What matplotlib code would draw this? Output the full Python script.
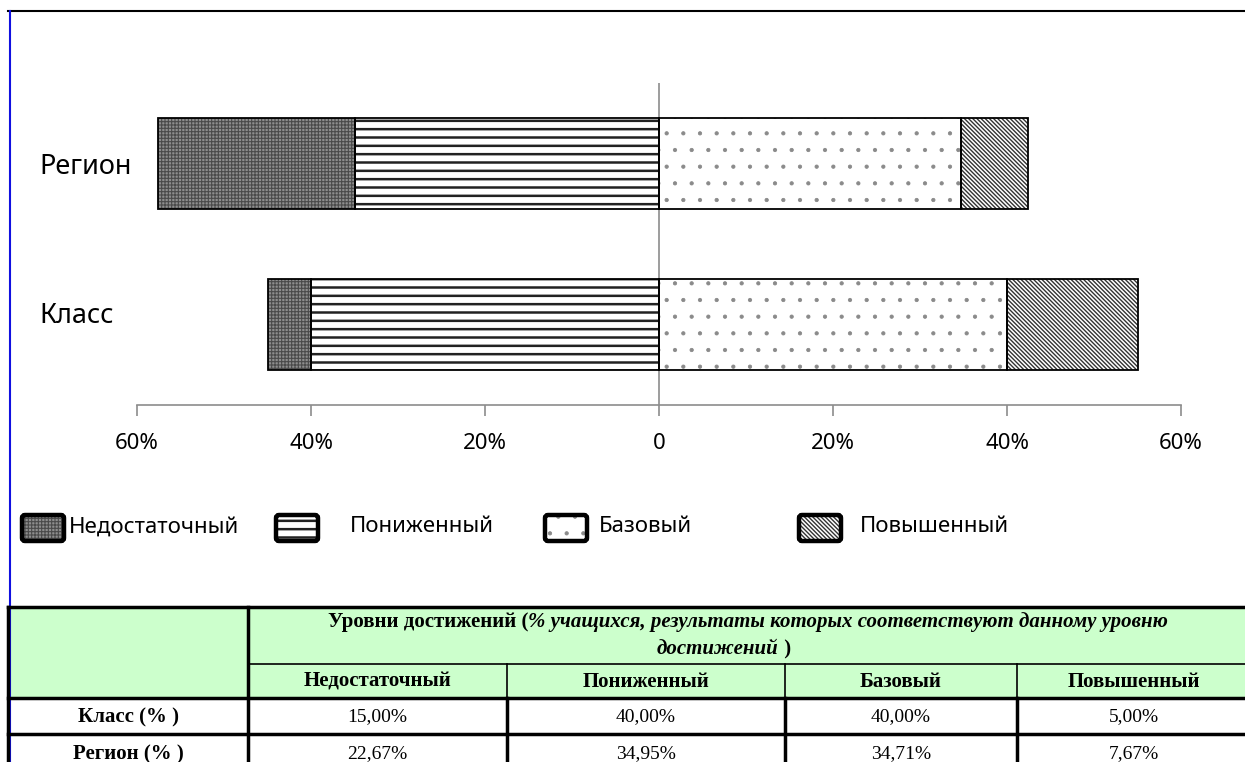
import matplotlib
matplotlib.use('Agg')
import matplotlib.pyplot as plt
import matplotlib.transforms as mtransforms
from matplotlib.patches import Rectangle, FancyBboxPatch
from matplotlib.ticker import FuncFormatter

plt.rcParams['font.family'] = ['Noto Sans', 'DejaVu Sans']

# данные диаграммы (как нарисовано)
categories = ['Класс', 'Регион']
levels = ['Недостаточный', 'Пониженный', 'Базовый', 'Повышенный']
nedostatochny = [5.0, 22.67]
ponizhenny = [40.0, 34.95]
bazovy = [40.0, 34.71]
povyshenny = [15.0, 7.67]

# данные таблицы
table_rows = ['Класс (% )', 'Регион (% )']
table_class = [15.00, 40.00, 40.00, 5.00]
table_region = [22.67, 34.95, 34.71, 7.67]

x_ticks = [-60, -40, -20, 0, 20, 40, 60]

styles = {
    'Недостаточный': dict(face='#8e8e8e', hatch='+++++', hc='#4a4a4a', hlw=0.8),
    'Пониженный': dict(face='white', hatch='--', hc='#222222', hlw=1.8),
    'Базовый': dict(face='white', hatch='.', hc='#8a8a8a', hlw=0.6),
    'Повышенный': dict(face='white', hatch='\\' * 8, hc='#333333', hlw=1.0),
}

W, H = 1245, 762
fig = plt.figure(figsize=(W / 100, H / 100), dpi=100)
ax = fig.add_axes([137 / W, 1 - 405 / H, 1044 / W, 322 / H])

y = list(range(len(categories)))
bh = 0.57


def hbar(left, width, name):
    st = styles[name]
    plt.rcParams['hatch.linewidth'] = st['hlw']
    ax.barh(y, width, left=left, height=bh, color=st['face'], hatch=st['hatch'],
            edgecolor=st['hc'], linewidth=0, zorder=2)
    ax.barh(y, width, left=left, height=bh, fill=False, edgecolor='black',
            linewidth=1.3, zorder=3)


hbar([-v for v in ponizhenny], ponizhenny, 'Пониженный')
hbar([-(a + b) for a, b in zip(ponizhenny, nedostatochny)], nedostatochny, 'Недостаточный')
hbar([0] * len(bazovy), bazovy, 'Базовый')
hbar(bazovy, povyshenny, 'Повышенный')

ax.set_xlim(-60, 60)
ax.set_ylim(-0.5, 1.5)
ax.axvline(0, color='#8c8c8c', lw=1.2, zorder=1)
for s in ['top', 'right', 'left']:
    ax.spines[s].set_visible(False)
ax.spines['bottom'].set_color('#8c8c8c')
ax.spines['bottom'].set_linewidth(1.2)
ax.set_xticks(x_ticks)
ax.xaxis.set_major_formatter(FuncFormatter(lambda v, p: '0' if v == 0 else f'{abs(v):.0f}%'))
ax.tick_params(axis='x', length=8, color='#8c8c8c', width=1.2, labelsize=16, pad=12)
ax.set_yticks(y)
ax.set_yticklabels(categories, fontsize=19.5, ha='left')
ax.tick_params(axis='y', length=0, pad=70)
# подпись "Класс" в оригинале чуть выше центра полосы
for lab in ax.get_yticklabels():
    if lab.get_text() == 'Класс':
        lab.set_transform(lab.get_transform() +
                          mtransforms.ScaledTranslation(0, 12 / 100, fig.dpi_scale_trans))

# оверлей в пикселях: легенда, рамки, таблица
ov = fig.add_axes([0, 0, 1, 1], zorder=5)
ov.set_xlim(0, W)
ov.set_ylim(H, 0)
ov.axis('off')
ov.patch.set_alpha(0)

ov.plot([8, W], [11, 11], color='black', lw=1.5)
ov.plot([10, 10], [11, H], color='#1010e0', lw=1.5)

leg_x = [20, 274, 543, 797]
leg_tx = [69, 350, 599, 860]
for name, lx, tx in zip(levels, leg_x, leg_tx):
    st = styles[name]
    plt.rcParams['hatch.linewidth'] = st['hlw']
    ov.add_patch(Rectangle((lx + 3, 516), 40, 24, facecolor=st['face'], hatch=st['hatch'],
                           edgecolor=st['hc'], linewidth=0))
    ov.add_patch(FancyBboxPatch((lx + 2, 515), 42, 26, boxstyle='round,pad=0,rounding_size=3',
                                fill=False, edgecolor='black', linewidth=3.2))
    ov.text(tx, 527, name, fontsize=16, va='center', ha='left')

# таблица
green = '#ccffcc'
cols = [8, 248, 507, 785, 1017, 1250]
rows = [607, 664, 698, 734, 772]
ov.add_patch(Rectangle((cols[0], rows[0]), cols[-1] - cols[0], rows[2] - rows[0],
                       facecolor=green, edgecolor='none'))
lw_thick, lw_thin = 2.5, 1.2
ov.plot([cols[0], cols[-1]], [rows[0], rows[0]], color='black', lw=lw_thick)
ov.plot([cols[1], cols[-1]], [rows[1], rows[1]], color='black', lw=lw_thin)
ov.plot([cols[0], cols[-1]], [rows[2], rows[2]], color='black', lw=lw_thick)
ov.plot([cols[0], cols[-1]], [rows[3], rows[3]], color='black', lw=lw_thick)
ov.plot([cols[0], cols[0]], [rows[0], H], color='black', lw=lw_thick)
ov.plot([cols[1], cols[1]], [rows[0], H], color='black', lw=lw_thick)
for c in cols[2:-1]:
    ov.plot([c, c], [rows[1], rows[2]], color='black', lw=lw_thin)
    ov.plot([c, c], [rows[2], H], color='black', lw=lw_thick)

serif = ['Liberation Serif', 'DejaVu Serif']
fs_b, fs = 15, 14
# заголовок с курсивом
parts1 = [('Уровни достижений (', 'normal'),
          ('% учащихся, результаты которых соответствуют данному уровню', 'italic')]
parts2 = [('достижений', 'italic'), (' )', 'normal')]


def mixed_line(parts, cx, cy):
    texts = [ov.text(0, cy, t, family=serif, fontsize=fs_b, weight='bold', style=s,
                     va='center', ha='left') for t, s in parts]
    fig.canvas.draw()
    r = fig.canvas.get_renderer()
    inv = ov.transData.inverted()
    widths = []
    for t in texts:
        bb = t.get_window_extent(r)
        x0 = inv.transform((bb.x0, bb.y0))[0]
        x1 = inv.transform((bb.x1, bb.y0))[0]
        widths.append(x1 - x0)
    x = cx - sum(widths) / 2
    for t, w in zip(texts, widths):
        t.set_x(x)
        x += w


mixed_line(parts1, 748, 622)
mixed_line(parts2, 724, 649)

for i, name in enumerate(levels):
    ov.text((cols[i + 1] + cols[i + 2]) / 2, (rows[1] + rows[2]) / 2 + 1, name, family=serif,
            fontsize=fs_b, weight='bold', ha='center', va='center')

for r_i, (lab, vals) in enumerate(zip(table_rows, [table_class, table_region])):
    cy = (rows[2 + r_i] + rows[3 + r_i]) / 2 + 1
    ov.text((cols[0] + cols[1]) / 2, cy, lab, family=serif, fontsize=fs_b, weight='bold',
            ha='center', va='center')
    for i, v in enumerate(vals):
        ov.text((cols[i + 1] + cols[i + 2]) / 2, cy, f'{v:.2f}%'.replace('.', ','),
                family=serif, fontsize=fs, ha='center', va='center')

fig.savefig('out.png', dpi=100)
